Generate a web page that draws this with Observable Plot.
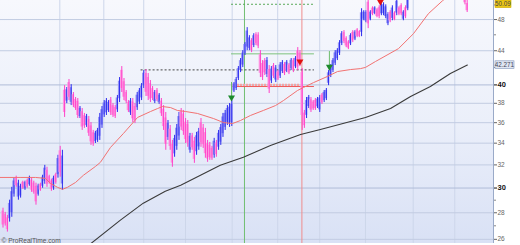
<!DOCTYPE html>
<html><head><meta charset="utf-8">
<script src="https://cdn.jsdelivr.net/npm/d3@7"></script>
<script src="https://cdn.jsdelivr.net/npm/@observablehq/plot@0.6"></script>
<style>
html,body{margin:0;padding:0;background:#fff;}
#chart{width:520px;height:245px;overflow:hidden;}
</style></head>
<body>
<div id="chart"></div>
<script>
// ---- daily OHLC (null = bar above visible range) ----
const open = [
28.13,27.87,27.61,27.54,28.01,29.49,30.87,29.25,29.34,30.48,
29.93,30.63,30.28,30.66,30.42,30.14,29.48,30.31,30.15,30.57,
31.53,30.97,30.60,29.99,31.13,31.14,33.28,30.34,39.41,38.23,
40.26,38.10,38.92,38.41,38.20,36.61,37.12,36.71,35.73,36.33,
35.68,35.00,34.15,34.27,34.66,35.76,36.79,37.00,37.23,38.34,
37.75,37.56,37.31,38.49,41.66,40.36,39.17,38.10,37.00,38.13,
37.66,37.54,38.13,38.57,39.90,41.30,40.84,40.13,39.59,38.18,
39.39,38.05,38.23,37.38,36.48,34.55,35.36,33.89,33.00,33.70,
34.68,37.12,36.88,36.05,35.83,33.34,34.70,34.19,33.20,33.65,
36.00,35.47,35.01,33.96,33.82,33.51,32.88,34.02,33.62,34.09,
34.91,35.53,36.03,35.90,36.02,39.33,39.60,40.73,41.65,42.28,
43.66,44.45,44.29,45.25,44.65,46.03,45.97,43.53,42.46,42.75,
41.18,41.74,40.44,42.20,40.55,41.46,41.00,41.52,42.34,41.61,
42.27,41.84,42.80,42.07,43.98,43.72,41.40,36.98,36.75,37.66,
38.38,38.13,38.32,37.63,37.31,38.87,38.28,38.49,40.18,41.06,
41.65,42.49,43.03,43.70,44.91,46.29,45.55,45.09,44.86,46.31,
45.45,46.63,46.41,46.32,48.04,47.82,50.38,48.04,49.56,48.81,
49.29,49.61,48.77,48.79,48.40,47.45,48.96,48.15,48.88,48.87,
49.56,49.91,48.04,49.61,49.47,
null,null,null,null,null,null,null,null,null,null,null,null,null,null,null,null,null,null,null,null,null,null,null,null,null,
51.20,50.20];
const high = [
28.36,28.03,27.80,29.00,30.06,30.84,31.01,30.66,30.32,30.58,
30.58,30.75,31.01,30.84,30.58,30.41,30.32,30.41,31.09,31.96,
31.79,31.09,30.75,31.01,31.27,32.87,33.70,33.33,39.92,39.71,
40.61,40.03,39.16,38.62,38.51,37.66,37.45,36.94,36.84,36.63,
36.01,35.23,35.14,35.43,36.94,37.66,38.29,38.51,38.29,38.62,
37.97,37.76,38.84,40.83,42.10,40.72,39.38,38.29,38.51,38.51,
37.97,39.16,39.60,40.15,41.63,41.75,41.29,40.49,39.82,39.38,
39.60,39.05,38.51,37.76,37.04,36.22,35.72,34.26,34.75,35.82,
37.04,37.45,37.25,36.42,36.22,34.94,34.94,34.55,35.04,35.43,
36.42,35.82,35.43,34.26,34.07,33.70,34.46,34.26,35.23,35.82,
36.94,37.25,37.76,37.97,38.29,40.26,40.83,42.10,43.05,44.01,
45.01,46.93,45.89,45.51,46.14,46.27,46.27,44.01,42.81,43.05,
43.17,42.22,42.10,42.46,42.22,41.63,42.57,42.81,42.57,42.81,
42.46,43.05,43.05,43.29,44.39,44.01,41.86,37.25,38.62,38.84,
38.62,38.29,38.51,38.62,38.84,39.05,39.38,39.60,41.63,42.34,
43.05,44.01,44.26,45.26,46.41,46.54,45.75,45.26,46.14,46.54,
46.54,46.80,46.54,49.47,49.20,49.20,51.01,49.20,49.74,49.74,
49.47,49.88,50.16,50.30,50.01,48.93,49.20,49.88,49.06,50.87,
49.74,50.16,49.20,49.88,51.01,
null,null,null,null,null,null,null,null,null,null,null,null,null,null,null,null,null,null,null,null,null,null,null,null,null,
51.43,50.90];
const low = [
26.83,26.98,26.53,27.28,27.65,29.25,30.06,29.00,29.17,29.89,
29.81,29.98,30.15,29.64,29.49,28.60,29.33,29.73,29.98,30.32,
30.06,30.32,29.73,29.81,30.32,30.84,30.92,29.81,36.53,37.97,
38.29,37.76,37.55,37.25,36.42,36.42,35.23,35.43,35.53,34.65,
33.79,33.70,33.97,34.07,34.26,35.43,36.53,36.73,37.04,36.73,
36.53,36.42,37.04,38.08,39.16,38.29,37.97,37.04,36.73,36.01,
35.91,37.25,37.87,38.29,39.60,38.73,38.29,38.08,38.29,37.97,
38.18,37.87,36.63,35.23,33.33,34.26,33.33,31.79,32.69,33.33,
34.26,35.23,34.75,33.97,33.61,33.06,33.33,32.14,32.87,33.33,
33.61,33.51,32.60,32.23,32.41,32.41,32.60,32.69,33.33,33.79,
34.55,35.23,35.72,35.53,35.62,39.16,39.38,40.49,41.40,41.98,
43.42,44.01,44.01,43.77,44.39,44.64,44.26,40.83,40.49,41.06,
40.83,39.05,40.15,40.72,40.26,40.49,40.72,41.29,41.06,41.40,
41.17,41.63,41.40,41.86,41.63,42.10,35.23,35.43,36.42,37.45,
37.04,37.25,37.25,37.45,37.04,37.87,38.08,38.29,39.92,40.83,
41.40,42.22,42.81,43.42,44.64,44.89,44.39,44.14,44.64,45.01,
45.26,45.64,45.64,45.76,47.84,47.58,46.80,47.84,48.52,48.65,
48.24,48.11,48.52,48.52,48.11,47.19,47.58,47.84,47.84,48.52,
48.52,48.52,47.84,48.11,49.20,
null,null,null,null,null,null,null,null,null,null,null,null,null,null,null,null,null,null,null,null,null,null,null,null,null,
50.01,48.95];
const close = [
27.06,27.14,26.72,28.74,29.70,30.60,30.20,30.41,30.15,30.00,
30.46,30.10,30.88,29.82,29.65,28.87,30.17,29.83,30.92,31.71,
30.32,30.44,29.88,30.83,30.46,32.57,31.34,32.80,37.04,39.45,
38.64,39.69,37.79,37.46,36.73,37.47,35.56,35.66,36.64,34.95,
34.12,33.93,34.96,35.23,36.54,37.33,38.03,38.24,38.10,37.01,
36.75,36.62,38.57,40.42,39.60,38.65,38.18,37.23,38.24,36.39,
36.22,38.87,39.34,39.87,41.33,39.18,38.74,38.44,38.52,39.17,
38.39,38.87,36.91,35.61,33.89,35.93,33.69,32.16,34.44,35.45,
36.62,35.56,35.12,34.34,34.00,34.66,33.57,32.50,34.71,35.11,
34.03,33.86,33.02,32.53,32.66,32.60,34.18,32.93,34.95,35.51,
36.58,36.95,37.45,37.60,37.89,40.10,40.61,41.86,42.80,43.71,
44.77,46.49,45.61,44.03,45.88,44.88,44.56,41.31,40.84,41.36,
42.82,39.53,41.81,40.98,41.93,40.66,42.29,42.58,41.29,42.60,
41.36,42.84,41.65,43.08,42.04,42.39,36.73,35.70,38.29,38.63,
37.28,37.41,37.44,38.44,38.57,38.05,39.18,39.40,41.37,42.11,
42.80,43.74,44.04,44.98,46.14,45.14,44.59,44.31,45.92,45.24,
46.35,45.81,45.77,48.91,49.00,48.96,47.43,49.00,48.70,49.58,
48.42,48.38,49.91,50.03,49.73,48.67,47.82,49.57,48.02,50.52,
48.70,48.77,49.00,48.38,50.74,
null,null,null,null,null,null,null,null,null,null,null,null,null,null,null,null,null,null,null,null,null,null,null,null,null,
50.30,49.20];

// ---- moving averages (bar index, value) ----
const redMAIdx = [-1,8,15,19.5,21.8,25,27.3,29.5,33.2,36.8,42.3,44.5,49.1,55,61.4,67.3,70.5,72.7,76.4,79.5,83.2,88.6,95.9,100.5,104.5,108.2,112.7,118.6,124.1,127.7,134.1,136.8,141.4,147.7,152.3,158.2,162.7,165,169.5,180,186.8,193.6,200,204];
const redMAVal = [30.90,30.90,30.90,30.82,30.39,30.06,29.89,30.06,30.47,31.09,31.87,32.23,33.60,34.94,36.53,37.14,37.45,37.66,37.55,37.25,37.14,36.94,36.42,36.01,35.91,36.22,36.73,37.25,37.76,38.29,39.38,39.71,40.26,40.95,41.52,41.75,41.86,42.00,42.69,44.26,46.14,48.79,50.58,51.60];
const blackMAIdx = [39,53.6,64,74,81,90,99,109.5,121.8,135.5,144.5,158.2,165,176.4,185.5,194.5,203.6,211.3];
const blackMAVal = [25.55,27.43,28.76,29.73,30.23,31.09,31.96,32.69,33.79,34.84,35.33,36.11,36.53,37.45,38.73,39.82,41.29,42.271];

// ---- scales / grid ----
const xDomain = [-0.91, 223.2];
const yDomain = [25.70, 50.62];
const monthIdx = [26.05,46.05,64.2,83.2,104.4,125.1,144.2,165,186.7,205.6];
const gridTicks = [26,28,32,34,36,38,44,48];
const boldTicks = [30,40];
const minorTicks = [27,29,42,46,50];

// ---- trade annotations ----
const dashLevel = 41.71, dashStart = 63.0;
const signalStart = 104.1, signalEnd = 141.8;
const targetLevel = 50.09, entryLevel = 43.62, stopLevel = 39.82, stopBand = 40.0, stopBandEnd = 135.5;
const greenVLine = 110, redVLine = 136.1;
const buyIdx = [104.1, 148.6], buyPrice = [38.62, 42.07], buyStemTop = [40.27, 43.9];
const sellIdx = [135.2, 171.8], sellPrice = [42.69, 50.45];
const lastQuote = 50.09, blackLast = 42.271;

const bars = open.map((o, i) => ({i, open: o, high: high[i], low: low[i], close: close[i]})).filter(d => d.open != null);
const up = bars.filter(d => d.close >= d.open), down = bars.filter(d => d.close < d.open);
const redMA = redMAIdx.map((i, k) => ({i, v: redMAVal[k]}));
const blackMA = blackMAIdx.map((i, k) => ({i, v: blackMAVal[k]}));
const buys = buyIdx.map((i, k) => ({i, p: buyPrice[k], top: buyStemTop[k]}));
const sells = sellIdx.map((i, k) => ({i, p: sellPrice[k]}));
const FONT = "'Liberation Sans', Arial, sans-serif";

function background(index, scales, values, dims) {
  const g = d3.create("svg:g");
  const grad = g.append("defs").append("linearGradient")
    .attr("id", "bgGrad").attr("x1", 0).attr("y1", 0).attr("x2", 0).attr("y2", 1);
  grad.append("stop").attr("offset", 0).attr("stop-color", "#f7f8fd");
  grad.append("stop").attr("offset", 0.5).attr("stop-color", "#ebeffa");
  grad.append("stop").attr("offset", 1).attr("stop-color", "#d9e1f5");
  g.append("rect")
    .attr("x", dims.marginLeft).attr("y", dims.marginTop)
    .attr("width", dims.width - dims.marginLeft - dims.marginRight)
    .attr("height", dims.height - dims.marginTop - dims.marginBottom)
    .attr("fill", "url(#bgGrad)");
  return g.node();
}
function tag(value, label, w, fill, stroke, color) {
  return (index, scales, values, dims) => {
    const y = scales.y(value);
    const x = dims.width - dims.marginRight + 2;
    const g = d3.create("svg:g");
    g.append("rect").attr("x", x).attr("y", y - 3.8).attr("width", w).attr("height", 7.6)
      .attr("fill", fill).attr("stroke", stroke).attr("stroke-width", 0.6);
    g.append("text").attr("x", x + w / 2).attr("y", y).attr("dy", "0.35em")
      .attr("text-anchor", "middle").attr("font-size", 6.3).attr("font-family", FONT)
      .attr("fill", color).text(label);
    return g.node();
  };
}

const chart = Plot.plot({
  width: 520, height: 245,
  marginLeft: 0, marginRight: 27, marginTop: 0, marginBottom: 2,
  x: {domain: xDomain, axis: null},
  y: {type: "log", domain: yDomain},
  style: {fontFamily: FONT, background: "#fff"},
  marks: [
    background,
    Plot.ruleX(monthIdx, {stroke: "#cdd6ea"}),
    Plot.ruleY(gridTicks, {stroke: "#c2cce2"}),
    Plot.ruleY(boldTicks, {stroke: "#b0bcd8"}),
    Plot.ruleX([greenVLine], {stroke: "#72bf72"}),
    Plot.ruleX([redVLine], {stroke: "#f08c8c"}),
    Plot.ruleY([dashLevel], {x1: dashStart, x2: signalEnd, stroke: "#444", strokeDasharray: "2,2"}),
    Plot.ruleY([targetLevel], {x1: signalStart, x2: signalEnd, stroke: "#5aaa5a", strokeDasharray: "2,2"}),
    Plot.ruleY([entryLevel], {x1: signalStart, x2: signalEnd, stroke: "#7cc27c"}),
    Plot.ruleY([stopBand], {x1: signalStart, x2: stopBandEnd, stroke: "#f4a4a4", strokeWidth: 2.5, strokeDasharray: "2,1"}),
    Plot.ruleY([stopLevel], {x1: signalStart, x2: signalEnd, stroke: "#ee5a5a"}),
    Plot.ruleX(up, {x: "i", y1: "open", y2: "close", stroke: "#9494f6", strokeWidth: 2.4, clip: true}),
    Plot.ruleX(up, {x: "i", y1: "low", y2: "high", stroke: "#2a2aee", strokeWidth: 1, dx: 0.5, clip: true}),
    Plot.ruleX(down, {x: "i", y1: "open", y2: "close", stroke: "#ff98e2", strokeWidth: 2.4, clip: true}),
    Plot.ruleX(down, {x: "i", y1: "low", y2: "high", stroke: "#ff40c8", strokeWidth: 1, dx: 0.5, clip: true}),
    Plot.line(redMA, {x: "i", y: "v", stroke: "#f27272", strokeWidth: 1, clip: true}),
    Plot.line(blackMA, {x: "i", y: "v", stroke: "#3a3a3a", strokeWidth: 1.1, clip: true}),
    Plot.ruleX(buys, {x: "i", y1: "top", y2: "p", stroke: "#6cbb6c"}),
    Plot.dot(buys, {x: "i", y: "p", symbol: "triangle", rotate: 180, r: 2.6, fill: "#1d8a2c", stroke: "none"}),
    Plot.dot(sells, {x: "i", y: "p", symbol: "triangle", rotate: 180, r: 2.6, fill: "#e01010", stroke: "none"}),
    Plot.ruleX([xDomain[1]], {stroke: "#9aaac8"}),
    Plot.axisY(gridTicks, {anchor: "right", tickSize: 3, tickPadding: 1, color: "#666", fontSize: 6.5, tickFormat: d => String(d), label: null}),
    Plot.axisY(boldTicks, {anchor: "right", tickSize: 3, tickPadding: 1, color: "#111", fontSize: 7.5, fontWeight: "bold", tickFormat: d => String(d), label: null}),
    Plot.axisY(minorTicks, {anchor: "right", tickSize: 2, color: "#888", tickFormat: () => "", label: null}),
    tag(blackLast, String(blackLast), 19, "#dfe6f2", "#8094b8", "#445"),
    tag(lastQuote, lastQuote.toFixed(2), 16, "#ecc815", "#c9a800", "#444"),
    Plot.text(["© ProRealTime.com"], {frameAnchor: "bottom-left", dx: 1, dy: -1, fontSize: 6.6, fill: "#555", textAnchor: "start", lineAnchor: "bottom"})
  ]
});
document.getElementById("chart").append(chart);
</script>
</body></html>
